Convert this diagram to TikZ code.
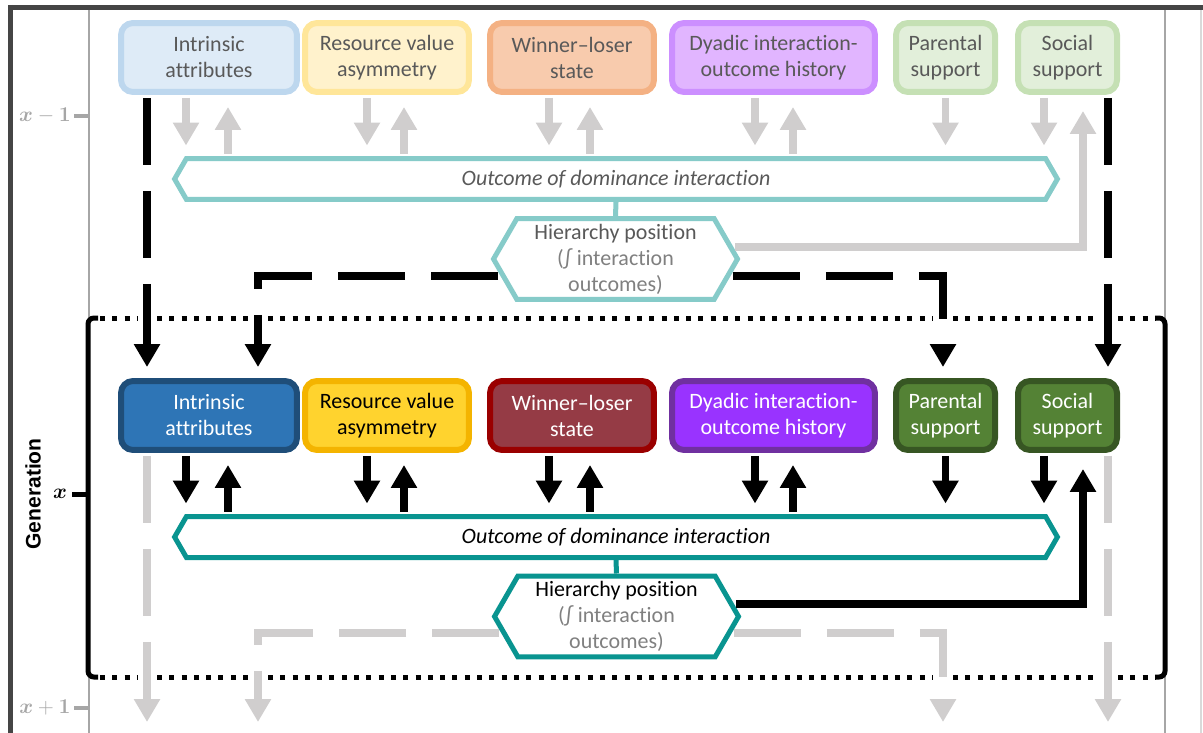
\documentclass[tikz,border=0pt]{standalone}
\usepackage{bm}
\usepackage{fontspec}
\setmainfont{Carlito}[Ligatures=NoCommon]
\newfontfamily\genfont{Liberation Sans}
\usepackage{tikz}
\usetikzlibrary{shapes.symbols,arrows.meta,positioning}

\definecolor{framegrey}{HTML}{454545}
\definecolor{axisgrey}{HTML}{A6A6A6}
\definecolor{edgegrey}{HTML}{D9D9D9}
\definecolor{arrowgrey}{HTML}{D0CECE}
\definecolor{palet}{HTML}{595959}
\definecolor{midgrey}{HTML}{808080}
\definecolor{intrpale}{HTML}{DEEBF7}
\definecolor{intrpaleD}{HTML}{BDD7EE}
\definecolor{respale}{HTML}{FFF2CC}
\definecolor{respaleD}{HTML}{FFE699}
\definecolor{winpale}{HTML}{F8CBAD}
\definecolor{winpaleD}{HTML}{F4B183}
\definecolor{dyapale}{HTML}{E1B5FF}
\definecolor{dyapaleD}{HTML}{CC8FFF}
\definecolor{suppale}{HTML}{E2EFDA}
\definecolor{suppaleD}{HTML}{C5E0B4}
\definecolor{hexpale}{HTML}{86CBC9}
\definecolor{intrfull}{HTML}{2E75B6}
\definecolor{intrfullD}{HTML}{1F4E79}
\definecolor{resfull}{HTML}{FFD32E}
\definecolor{resfullD}{HTML}{F4B400}
\definecolor{winfull}{HTML}{953B45}
\definecolor{winfullD}{HTML}{9A0000}
\definecolor{dyafull}{HTML}{9933FF}
\definecolor{dyafullD}{HTML}{7030A0}
\definecolor{supfull}{HTML}{548235}
\definecolor{supfullD}{HTML}{375623}
\definecolor{hexfull}{HTML}{099490}

\begin{document}
\begin{tikzpicture}[
    x=0.02cm, y=-0.02cm,
    font=\fontsize{12.5}{14.8}\selectfont,
    box/.style={rectangle, rounded corners=0.24cm, line width=0.12cm, minimum height=1.38cm, align=center, inner sep=1pt},
    hexa/.style={signal, signal to=east and west, signal pointer angle=120, fill=white, line width=0.1cm, align=center, inner sep=1pt},
    karrow/.style={-{Triangle[width=0.5cm,length=0.46cm]}, line width=0.15cm, color=black},
    garrow/.style={karrow, color=arrowgrey},
    kdash/.style={karrow, dash pattern=on 1.34cm off 0.52cm},
    gdash/.style={garrow, dash pattern=on 1.34cm off 0.52cm},
    dotrule/.style={line width=0.1cm, dash pattern=on 0.1cm off 0.146cm},
    axisline/.style={line width=0.05cm, color=axisgrey}
]
\useasboundingbox (0,0) rectangle (1203,733);

% frame and generation axis
\draw[line width=0.1cm, color=framegrey] (10.5,5) -- (10.5,733);
\draw[line width=0.09cm, color=framegrey] (8,7.5) -- (1203,7.5);
\draw[line width=0.04cm, edgegrey] (1201,10) -- (1201,733);
\draw[axisline] (89,10) -- (89,733);
\draw[axisline] (1165,10) -- (1165,733);
\draw[axisline, line width=0.08cm] (74,116) -- (89,116);
\draw[axisline, line width=0.08cm] (74,708) -- (89,708);
\node[text=axisgrey] (genprev) at (45,116) {$\bm{x}-\bm{1}$};
\node[text=axisgrey] (gennext) at (45,708) {$\bm{x}+\bm{1}$};
\node (gencur) at (60,494) {$\bm{x}$};
\node[rotate=90, font=\genfont\bfseries\fontsize{12}{14}\selectfont] (genlabel) at (33,494) {Generation};

% generation x bracket
\draw[line width=0.1cm, rounded corners=0.12cm] (98,318) -- (88,318) -- (88,677) -- (98,677);
\draw[line width=0.1cm, rounded corners=0.12cm] (1155,318) -- (1165,318) -- (1165,677) -- (1155,677);
\draw[line width=0.1cm] (72,494) -- (88,494);
\foreach \a/\b in {100/137,157/248,268/933,953/1098,1118/1155}
    \draw[dotrule] (\a,318) -- (\b,318) (\a,677) -- (\b,677);
\coordinate (nextgen) at (0,722);

% generation x-1
\node[box, draw=intrpaleD, fill=intrpale, text=palet, minimum width=3.52cm] (intrA) at (209,57.5) {Intrinsic\\attributes};
\node[box, draw=respaleD, fill=respale, text=palet, minimum width=3.28cm] (resA) at (387,57.5) {Resource value\\asymmetry};
\node[box, draw=winpaleD, fill=winpale, text=palet, minimum width=3.28cm] (winA) at (572,57.5) {Winner--loser\\state};
\node[box, draw=dyapaleD, fill=dyapale, text=palet, minimum width=4.06cm] (dyaA) at (773.5,57.5) {Dyadic interaction-\\outcome history};
\node[box, draw=suppaleD, fill=suppale, text=palet, minimum width=1.98cm] (parA) at (945.5,57.5) {Parental\\support};
\node[box, draw=suppaleD, fill=suppale, text=palet, minimum width=1.98cm] (socA) at (1067.5,57.5) {Social\\support};
\node[hexa, draw=hexpale, text=palet, minimum width=17.66cm, minimum height=0.82cm] (outA) at (616,179) {\textit{Outcome of dominance interaction}};
\node[hexa, draw=hexpale, text=palet, minimum width=4.88cm, minimum height=1.62cm] (hierA) at (615.5,259) {Hierarchy position\\\textcolor{midgrey}{(∫ interaction}\\\textcolor{midgrey}{outcomes)}};
\draw[line width=0.1cm, hexpale] (outA.south) -- (hierA.north);

\draw[garrow, shorten <=0.06cm, shorten >=0.21cm] ([xshift=-0.46cm]intrA.south) -- ([xshift=-0.46cm]intrA.south |- outA.north);
\draw[garrow, shorten <=0.05cm, shorten >=0.24cm] ([xshift=0.38cm]intrA.south |- outA.north) -- ([xshift=0.38cm]intrA.south);
\draw[garrow, shorten <=0.06cm, shorten >=0.21cm] ([xshift=-0.4cm]resA.south) -- ([xshift=-0.4cm]resA.south |- outA.north);
\draw[garrow, shorten <=0.05cm, shorten >=0.24cm] ([xshift=0.34cm]resA.south |- outA.north) -- ([xshift=0.34cm]resA.south);
\draw[garrow, shorten <=0.06cm, shorten >=0.21cm] ([xshift=-0.46cm]winA.south) -- ([xshift=-0.46cm]winA.south |- outA.north);
\draw[garrow, shorten <=0.05cm, shorten >=0.24cm] ([xshift=0.36cm]winA.south |- outA.north) -- ([xshift=0.36cm]winA.south);
\draw[garrow, shorten <=0.06cm, shorten >=0.21cm] ([xshift=-0.37cm]dyaA.south) -- ([xshift=-0.37cm]dyaA.south |- outA.north);
\draw[garrow, shorten <=0.05cm, shorten >=0.24cm] ([xshift=0.39cm]dyaA.south |- outA.north) -- ([xshift=0.39cm]dyaA.south);
\draw[garrow, shorten <=0.06cm, shorten >=0.21cm] (parA.south) -- (parA.south |- outA.north);
\draw[garrow, shorten <=0.06cm, shorten >=0.21cm] ([xshift=-0.47cm]socA.south) -- ([xshift=-0.47cm]socA.south |- outA.north);
\draw[garrow, shorten >=0.32cm] ([xshift=-0.1cm,yshift=0.24cm]hierA.east) -| ([xshift=0.31cm]socA.south);

% generation x
\node[box, draw=intrfullD, fill=intrfull, text=white, minimum width=3.52cm] (intrB) at (209,415.5) {Intrinsic\\attributes};
\node[box, draw=resfullD, fill=resfull, text=black, minimum width=3.28cm] (resB) at (387,415.5) {Resource value\\asymmetry};
\node[box, draw=winfullD, fill=winfull, text=white, minimum width=3.28cm] (winB) at (572,415.5) {Winner--loser\\state};
\node[box, draw=dyafullD, fill=dyafull, text=white, minimum width=4.06cm] (dyaB) at (773.5,415.5) {Dyadic interaction-\\outcome history};
\node[box, draw=supfullD, fill=supfull, text=white, minimum width=1.98cm] (parB) at (945.5,415.5) {Parental\\support};
\node[box, draw=supfullD, fill=supfull, text=white, minimum width=1.98cm] (socB) at (1067.5,415.5) {Social\\support};
\node[hexa, draw=hexfull, minimum width=17.66cm, minimum height=0.82cm] (outB) at (616,537) {\textit{Outcome of dominance interaction}};
\node[hexa, draw=hexfull, minimum width=4.88cm, minimum height=1.62cm] (hierB) at (616.5,616.5) {Hierarchy position\\\textcolor{midgrey}{(∫ interaction}\\\textcolor{midgrey}{outcomes)}};
\draw[line width=0.1cm, hexfull] (outB.south) -- (hierB.north);

\draw[karrow, shorten <=0.06cm, shorten >=0.21cm] ([xshift=-0.46cm]intrB.south) -- ([xshift=-0.46cm]intrB.south |- outB.north);
\draw[karrow, shorten <=0.05cm, shorten >=0.24cm] ([xshift=0.38cm]intrB.south |- outB.north) -- ([xshift=0.38cm]intrB.south);
\draw[karrow, shorten <=0.06cm, shorten >=0.21cm] ([xshift=-0.4cm]resB.south) -- ([xshift=-0.4cm]resB.south |- outB.north);
\draw[karrow, shorten <=0.05cm, shorten >=0.24cm] ([xshift=0.34cm]resB.south |- outB.north) -- ([xshift=0.34cm]resB.south);
\draw[karrow, shorten <=0.06cm, shorten >=0.21cm] ([xshift=-0.46cm]winB.south) -- ([xshift=-0.46cm]winB.south |- outB.north);
\draw[karrow, shorten <=0.05cm, shorten >=0.24cm] ([xshift=0.36cm]winB.south |- outB.north) -- ([xshift=0.36cm]winB.south);
\draw[karrow, shorten <=0.06cm, shorten >=0.21cm] ([xshift=-0.37cm]dyaB.south) -- ([xshift=-0.37cm]dyaB.south |- outB.north);
\draw[karrow, shorten <=0.05cm, shorten >=0.24cm] ([xshift=0.39cm]dyaB.south |- outB.north) -- ([xshift=0.39cm]dyaB.south);
\draw[karrow, shorten <=0.06cm, shorten >=0.21cm] (parB.south) -- (parB.south |- outB.north);
\draw[karrow, shorten <=0.06cm, shorten >=0.21cm] ([xshift=-0.47cm]socB.south) -- ([xshift=-0.47cm]socB.south |- outB.north);
\draw[karrow, shorten >=0.32cm] ([xshift=-0.1cm,yshift=0.25cm]hierB.east) -| ([xshift=0.31cm]socB.south);

% carry-over between generations
\draw[kdash, shorten <=0.06cm, shorten >=0.22cm] ([xshift=-1.24cm]intrA.south) -- ([xshift=-1.24cm]intrB.north);
\draw[kdash, shorten >=0.22cm] ([xshift=0.15cm,yshift=-0.34cm]hierA.west) -| ([xshift=0.98cm]intrB.north);
\draw[kdash, shorten >=0.22cm] ([xshift=-0.15cm,yshift=-0.34cm]hierA.east) -| ([xshift=-0.05cm]parB.north);
\draw[kdash, shorten <=0.06cm, shorten >=0.22cm] ([xshift=0.81cm]socA.south) -- ([xshift=0.81cm]socB.north);
\draw[gdash, shorten <=0.06cm] ([xshift=-1.24cm]intrB.south) -- ([xshift=-1.24cm]intrB.south |- nextgen);
\draw[gdash] ([xshift=0.15cm,yshift=-0.33cm]hierB.west) -| ([xshift=0.98cm]intrB.south |- nextgen);
\draw[gdash] ([xshift=-0.15cm,yshift=-0.33cm]hierB.east) -| ([xshift=-0.05cm]parB.south |- nextgen);
\draw[gdash, shorten <=0.06cm] ([xshift=0.81cm]socB.south) -- ([xshift=0.81cm]socB.south |- nextgen);

\end{tikzpicture}
\end{document}
